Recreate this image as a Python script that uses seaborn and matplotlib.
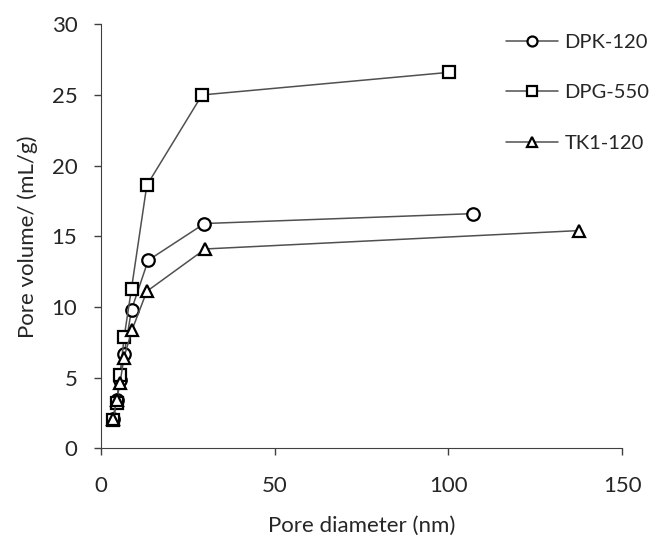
import matplotlib
matplotlib.use("Agg")
import matplotlib.pyplot as plt
import seaborn as sns
import pandas as pd

# datos
diam_dpk = [3.5, 4.5, 5.5, 6.7, 8.8, 13.6, 29.8, 107.0]
vol_dpk = [2.1, 3.4, 4.8, 6.7, 9.8, 13.3, 15.9, 16.6]

diam_dpg = [3.5, 4.5, 5.5, 6.7, 8.8, 13.2, 29.1, 100.2]
vol_dpg = [2.0, 3.2, 5.2, 7.9, 11.3, 18.6, 25.0, 26.6]

diam_tk1 = [3.5, 4.5, 5.5, 6.6, 9.0, 13.2, 30.0, 137.5]
vol_tk1 = [2.1, 3.4, 4.6, 6.4, 8.4, 11.1, 14.1, 15.4]

series = ["DPK-120", "DPG-550", "TK1-120"]
marcadores = ["o", "s", "^"]

sns.set_style("ticks")
plt.rcParams['font.family'] = ['Lato', 'DejaVu Sans']

df = pd.concat([
    pd.DataFrame({'d': diam_dpk, 'v': vol_dpk, 'muestra': series[0]}),
    pd.DataFrame({'d': diam_dpg, 'v': vol_dpg, 'muestra': series[1]}),
    pd.DataFrame({'d': diam_tk1, 'v': vol_tk1, 'muestra': series[2]}),
])

fig = plt.figure(figsize=(6.64, 5.4), dpi=100)
ax = fig.add_axes([0.152, 0.170, 0.785, 0.785])

for nombre, mk in zip(series, marcadores):
    sub = df[df['muestra'] == nombre]
    sns.lineplot(data=sub, x='d', y='v', sort=False, ax=ax, label=nombre,
                 color='#505050', linewidth=1.1, marker=mk, markersize=9,
                 markerfacecolor='white', markeredgecolor='black',
                 markeredgewidth=1.6)

ax.set_xlim(0, 150)
ax.set_ylim(0, 30)
ax.set_xticks([0, 50, 100, 150])
ax.set_yticks([0, 5, 10, 15, 20, 25, 30])
ax.tick_params(labelsize=16, length=5, width=1, color='#404040')
ax.tick_params(axis='x', pad=15)
ax.tick_params(axis='y', pad=12)
for s in ['top', 'right']:
    ax.spines[s].set_visible(False)
for s in ['left', 'bottom']:
    ax.spines[s].set_color('#404040')

ax.set_xlabel('Pore diameter (nm)', fontsize=16, labelpad=14)
ax.set_ylabel('Pore volume/ (mL/g)', fontsize=16, labelpad=10)

ax.legend(loc='upper left', bbox_to_anchor=(0.762, 0.937),
          bbox_transform=fig.transFigure, frameon=False, fontsize=14.5,
          handlelength=2.6, labelspacing=1.65, handletextpad=0.3,
          markerscale=0.8, borderpad=0, borderaxespad=0)

plt.savefig('out.png', dpi=100, facecolor='white')
plt.close()
